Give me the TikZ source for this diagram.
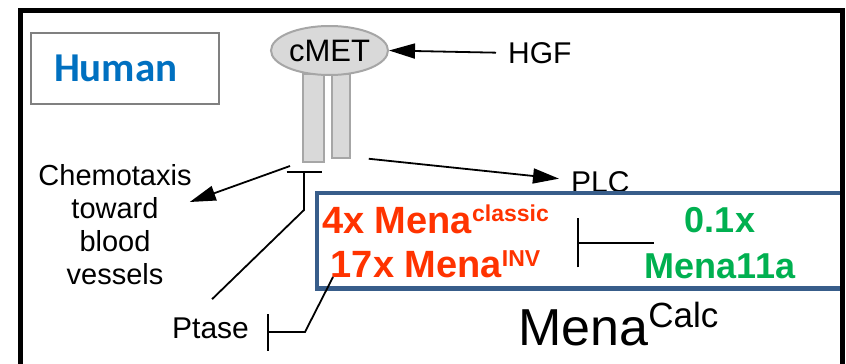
\documentclass[tikz,border=0pt]{standalone}
\usepackage{fontspec}
\setmainfont{Liberation Sans}
\newfontfamily\calfont{Carlito}
\usetikzlibrary{arrows.meta,shapes.geometric}
\definecolor{humanblue}{RGB}{0,112,192}
\definecolor{menared}{RGB}{255,51,0}
\definecolor{menagreen}{RGB}{0,176,80}
\definecolor{boxblue}{RGB}{56,93,138}
\definecolor{rcfill}{RGB}{217,217,217}
\definecolor{rcline}{RGB}{166,166,166}
\definecolor{hgray}{RGB}{128,128,128}
\newcommand\mysup[2]{\raisebox{#1}{\fontsize{23}{23}\selectfont #2}}
\begin{document}
\begin{tikzpicture}[x=1pt,y=-1pt,
  lbl/.style={inner sep=0pt, font=\fontsize{30}{34}\selectfont},
  act/.style={line width=1.8pt, -{Triangle[length=26pt,width=15pt]}},
  inh/.style={line width=1.8pt, -{Bar[width=#1]}},
  rcpt/.style={draw=rcline, fill=rcfill, line width=1.5pt, inner sep=0pt}]
\useasboundingbox (0,0) rectangle (846,364);
\clip (0,0) rectangle (846,364);

% Human label box
\node[draw=hgray, line width=2pt, inner sep=0pt, minimum width=188pt, minimum height=71pt]
  (human) at (125,68.5)
  {\makebox[188pt][l]{\hspace{23pt}\calfont\bfseries\fontsize{41}{41}\selectfont\color{humanblue}Human}};

% receptor
\node[rcpt, minimum width=21pt, minimum height=88pt] (bar1) at (313.5,118) {};
\node[rcpt, minimum width=18pt, minimum height=84pt] (bar2) at (341,116) {};
\node[ellipse, draw=rcline, fill=rcfill, line width=2pt, minimum width=117pt, minimum height=49pt,
  inner sep=0pt, font=\fontsize{31}{31}\selectfont] (cmet) at (329.5,50.5) {\raisebox{-3pt}{cMET}};

% labels
\node[lbl, anchor=base west] (hgf) at (508,63) {HGF};
\node[lbl, anchor=base west] (plc) at (571,192) {PLC};
\node[lbl, anchor=base west] (ptase) at (172,338) {Ptase};
\node[inner sep=0pt, align=center, font=\fontsize{29}{33}\selectfont, anchor=north]
  (chemo) at (115,164) {Chemotaxis\\toward\\blood\\vessels};

% Mena box
\node[draw=boxblue, fill=white, line width=4.5pt, inner sep=0pt, minimum width=525pt,
  minimum height=95.5pt] (menabox) at (579.5,240.75) {};
\node[inner sep=0pt, align=center, text=menared, font=\bfseries\fontsize{38}{44}\selectfont,
  anchor=north] (mena) at (435.5,205) {4x Mena\mysup{11.5pt}{classic}\\17x Mena\mysup{10.5pt}{INV}};
\node[inner sep=0pt, align=center, text=menagreen, font=\bfseries\fontsize{36}{46}\selectfont,
  anchor=north] (m11a) at (720,207) {0.1x\\Mena11a};
\node[inner sep=0pt, anchor=base west, font=\fontsize{52}{52}\selectfont]
  (calc) at (518,345) {Mena\raisebox{18pt}{\fontsize{35}{35}\selectfont Calc}};

% junction coordinates
\coordinate (rcv) at (304,171);
\coordinate (kink) at (304,210);
\coordinate (mp) at (333,277);
\coordinate (pk) at (305,332);
\coordinate (pbar) at (267,332);
\coordinate (mbar) at (577,243);

% connectors
\draw[act] ([xshift=-12pt]hgf.west) -- (cmet.east);
\draw[act] ([xshift=18pt]bar2.south east) -- ([xshift=-12pt,yshift=3pt]plc.west);
\draw[act] ([xshift=-14pt,yshift=5pt]rcv) -- ([xshift=-2pt,yshift=-38pt]chemo.north east);
\draw[inh=35pt] ([xshift=1.5pt,yshift=18pt]ptase.north) -- (kink) -- (rcv);
\draw[inh=37pt] (mp) -- (pk) -- (pbar);
\draw[inh=49pt] ([xshift=9pt]m11a.west) -- (mbar |- m11a.west);

% outer frame
\draw[line width=5pt] (20,10) rectangle (842,400);
\end{tikzpicture}
\end{document}
